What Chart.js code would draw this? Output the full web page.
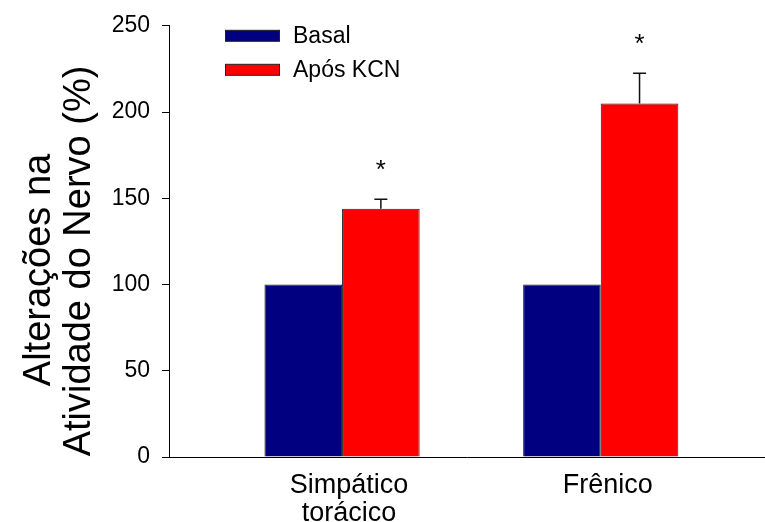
<!DOCTYPE html>
<html>
<head>
<meta charset="utf-8">
<script src="https://cdn.jsdelivr.net/npm/chart.js@4/dist/chart.umd.min.js"></script>
<style>
  html, body { margin: 0; padding: 0; background: #fff; }
  #wrap { width: 765px; height: 522px; position: relative; }
</style>
</head>
<body>
<div id="wrap"><canvas id="c"></canvas></div>
<script>
// nerve activity before / after KCN, mean + SEM
var groups = [['Simpático', 'torácico'], ['Frênico']];
var groupPos = [1, 2];
var basal = [100, 100];
var basalErr = [0, 0];
var kcn = [144, 205];
var kcnErr = [5.5, 17.5];
var kcnSig = [true, true];
var yTicks = [0, 50, 100, 150, 200, 250];
var yTitle = ['Alterações na', 'Atividade do Nervo (%)'];

var FONT = '"Liberation Sans", Arial, sans-serif';
var NAVY = '#000080', RED = '#ff0000';

function pts(vals) {
  return vals.map(function (v, i) { return { x: groupPos[i], y: v }; });
}

// upward error bars + significance stars
var errPlugin = {
  id: 'errBars',
  afterDatasetsDraw: function (c) {
    var ctx = c.ctx, y = c.scales.y;
    var errs = [basalErr, kcnErr], sig = [null, kcnSig];
    ctx.save();
    c.data.datasets.forEach(function (ds, d) {
      c.getDatasetMeta(d).data.forEach(function (bar, i) {
        var e = errs[d][i];
        var top = y.getPixelForValue(ds.data[i].y + e);
        if (e > 0) {
          ctx.strokeStyle = '#111'; ctx.lineWidth = 1.5;
          ctx.beginPath();
          ctx.moveTo(bar.x, bar.y); ctx.lineTo(bar.x, top);
          ctx.moveTo(bar.x - 6.5, top); ctx.lineTo(bar.x + 6.5, top);
          ctx.stroke();
        }
        if (sig[d] && sig[d][i]) {
          ctx.fillStyle = '#000';
          ctx.font = '26px ' + FONT;
          ctx.textAlign = 'center'; ctx.textBaseline = 'middle';
          ctx.fillText('*', bar.x, top - 28);
        }
      });
    });
    ctx.restore();
  }
};

// legend box top-left inside the plot
var legendPlugin = {
  id: 'boxLegend',
  afterDraw: function (c) {
    var ctx = c.ctx, a = c.chartArea;
    ctx.save();
    ctx.font = '23px ' + FONT;
    ctx.textBaseline = 'middle'; ctx.textAlign = 'left';
    c.data.datasets.forEach(function (ds, i) {
      var x = a.left + 56, cy = a.top + 10 + i * 34;
      ctx.fillStyle = ds.backgroundColor;
      ctx.fillRect(x, cy - 5.5, 55, 11);
      ctx.strokeStyle = '#222'; ctx.lineWidth = 1;
      ctx.strokeRect(x + 0.5, cy - 5.5, 54, 11);
      ctx.fillStyle = '#000';
      ctx.fillText(ds.label, x + 68, cy + 1);
    });
    ctx.restore();
  }
};

// two-line rotated y title, centred on the canvas height
var titlePlugin = {
  id: 'yTitle',
  afterDraw: function (c) {
    var ctx = c.ctx;
    ctx.save();
    ctx.font = '38px ' + FONT;
    ctx.fillStyle = '#000';
    ctx.textAlign = 'center'; ctx.textBaseline = 'alphabetic';
    yTitle.forEach(function (t, i) {
      ctx.save();
      ctx.translate(50 + i * 40, c.height / 2 + (i === 0 ? 9 : 0));
      ctx.rotate(-Math.PI / 2);
      ctx.fillText(t, 0, 0);
      ctx.restore();
    });
    ctx.restore();
  }
};

new Chart(document.getElementById('c'), {
  type: 'bar',
  data: {
    datasets: [
      { label: 'Basal', data: pts(basal), backgroundColor: NAVY, borderColor: '#222', borderWidth: 1 },
      { label: 'Após KCN', data: pts(kcn), backgroundColor: RED, borderColor: '#222', borderWidth: 1 }
    ]
  },
  plugins: [errPlugin, legendPlugin, titlePlugin],
  options: {
    responsive: true, maintainAspectRatio: false, animation: false,
    layout: { padding: { top: 17, right: 0, left: 0, bottom: 0 } },
    categoryPercentage: 0.6, barPercentage: 1.0,
    plugins: { legend: { display: false }, tooltip: { enabled: false } },
    scales: {
      x: {
        type: 'linear', min: 0.331, max: 2.635, offset: false,
        grid: { display: false, offset: false },
        border: { display: true, color: '#000', width: 1 },
        afterBuildTicks: function (s) { s.ticks = groupPos.map(function (v) { return { value: v }; }); },
        afterFit: function (s) { s.height = 65; },
        ticks: {
          autoSkip: false, maxRotation: 0, padding: 6, labelOffset: 7, color: '#000',
          font: { family: FONT, size: 27, lineHeight: 1.05 },
          callback: function (v) { var i = groupPos.indexOf(v); return i < 0 ? '' : groups[i]; }
        }
      },
      y: {
        min: 0, max: 250,
        afterBuildTicks: function (s) { s.ticks = yTicks.map(function (v) { return { value: v }; }); },
        afterFit: function (s) { s.width = 169; },
        grid: { display: true, drawOnChartArea: false, drawTicks: true, tickLength: 7, color: '#000' },
        border: { display: true, color: '#000', width: 1 },
        ticks: { color: '#000', padding: 12, font: { family: FONT, size: 23 } }
      }
    }
  }
});
</script>
</body>
</html>
